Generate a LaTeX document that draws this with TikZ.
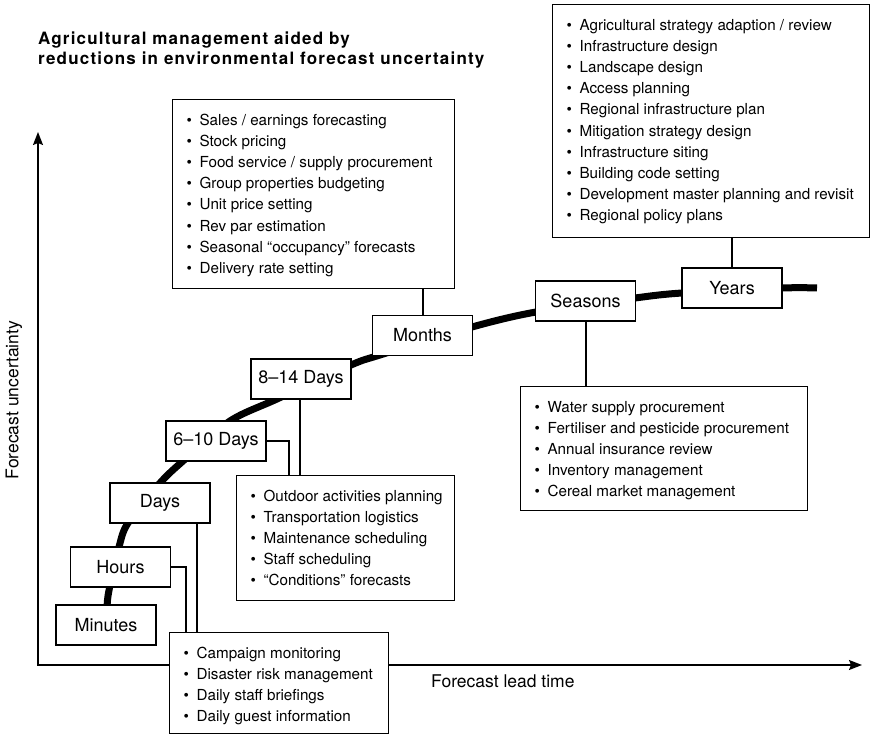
\documentclass[tikz,border=0pt]{standalone}
\usepackage{fontspec}
\setmainfont{TeX Gyre Heros}
\newfontfamily\titlefamily[LetterSpace=7]{TeX Gyre Heros}
\usetikzlibrary{arrows.meta}

% fonts
\newcommand{\listfont}{\fontsize{15.2}{21.2}\selectfont}
\newcommand{\labelfont}{\fontsize{18}{20}\selectfont}
\newcommand{\axisfont}{\fontsize{17.5}{20}\selectfont}
\newcommand{\headfont}{\titlefamily\bfseries\fontsize{17}{20}\selectfont}

% bullet lists inside fixed-size boxes
\newcommand{\bfirst}[1]{\rule{0pt}{25.5pt}\makebox[13pt][l]{\textbullet}#1\par}
\newcommand{\bitem}[1]{\makebox[13pt][l]{\textbullet}#1\par}
\newcommand{\bulletlist}[3]{\parbox[c][#2][t]{#1}{\listfont\raggedright
  \setlength{\leftskip}{14pt}\setlength{\parskip}{0pt}#3}}

\tikzset{
  listbox/.style={draw, fill=white, line width=1.2pt, inner sep=0pt, anchor=north west},
  scalebox/.style={draw, fill=white, line width=1.2pt, inner sep=0pt,
    minimum width=100pt, minimum height=40pt, font=\labelfont},
  link/.style={line width=2pt},
  trend/.style={line width=7pt},
  axis/.style={line width=1.4pt, {Stealth[length=13pt,width=10pt,inset=2pt]}-{Stealth[length=13pt,width=10pt,inset=2pt]}},
}

\begin{document}
\begin{tikzpicture}[x=1pt,y=-1pt]
\useasboundingbox (0,0) rectangle (875,735);

% axes
\coordinate (ytip) at (38,132);
\coordinate (xtip) at (862,665);
\draw[axis] (ytip) |- (xtip);
\node[rotate=90, font=\axisfont] (ylab) at (14,400) {Forecast uncertainty};
\node[anchor=base west, font=\axisfont, inner sep=0pt] (xlab) at (431,687) {Forecast lead time};

% heading
\node[anchor=base west, font=\headfont, inner sep=0pt] (title1) at (38,44.5) {Agricultural management aided by};
\node[anchor=base west, font=\headfont, inner sep=0pt] (title2) at (38,64.5) {reductions in environmental forecast uncertainty};

% uncertainty trend
\draw[trend] plot[smooth, tension=0.5] coordinates {
  (107,625) (108,596) (119,547) (128,523) (160,483) (183,461) (230,421)
  (277,399) (351,365) (380,355) (472,327) (536,312) (635,298) (682,293)
  (782,288) (817,288)};

% time scales
\node[scalebox] (minutes) at (106,625) {Minutes};
\node[scalebox] (hours)   at (120.5,567) {Hours};
\node[scalebox] (days)    at (160,503) {Days};
\node[scalebox] (d610)    at (216,441) {6--10 Days};
\node[scalebox] (d814)    at (301,379) {8--14 Days};
\node[scalebox] (months)  at (422.5,335.5) {Months};
\node[scalebox] (seasons) at (585.5,301) {Seasons};
\node[scalebox] (years)   at (732,288) {Years};

% activity lists
\node[listbox] (shortbox) at (169,632) {\bulletlist{219pt}{101pt}{%
  \bfirst{Campaign monitoring}
  \bitem{Disaster risk management}
  \bitem{Daily staff briefings}
  \bitem{Daily guest information}}};

\node[listbox] (weekbox) at (236,475) {\bulletlist{218pt}{125pt}{%
  \bfirst{Outdoor activities planning}
  \bitem{Transportation logistics}
  \bitem{Maintenance scheduling}
  \bitem{Staff scheduling}
  \bitem{``Conditions'' forecasts}}};

\node[listbox] (monthbox) at (172,99) {\bulletlist{282pt}{189pt}{%
  \bfirst{Sales / earnings forecasting}
  \bitem{Stock pricing}
  \bitem{Food service / supply procurement}
  \bitem{Group properties budgeting}
  \bitem{Unit price setting}
  \bitem{Rev par estimation}
  \bitem{Seasonal ``occupancy'' forecasts}
  \bitem{Delivery rate setting}}};

\node[listbox] (seasonbox) at (520,386) {\bulletlist{287pt}{124pt}{%
  \bfirst{Water supply procurement}
  \bitem{Fertiliser and pesticide procurement}
  \bitem{Annual insurance review}
  \bitem{Inventory management}
  \bitem{Cereal market management}}};

\node[listbox] (yearbox) at (552,4) {\bulletlist{317pt}{233pt}{%
  \bfirst{Agricultural strategy adaption / review}
  \bitem{Infrastructure design}
  \bitem{Landscape design}
  \bitem{Access planning}
  \bitem{Regional infrastructure plan}
  \bitem{Mitigation strategy design}
  \bitem{Infrastructure siting}
  \bitem{Building code setting}
  \bitem{Development master planning and revisit}
  \bitem{Regional policy plans}}};

% links from time scales to lists
\draw[link] (hours.east) -| ([xshift=17pt]shortbox.north west);
\draw[link] ([xshift=37pt]days.south) -- ([xshift=28pt]shortbox.north west);
\draw[link] (d610.east) -| ([xshift=53pt]weekbox.north west);
\draw[link] ([xshift=-1pt]d814.south) -- ([xshift=64pt]weekbox.north west);
\draw[link] (months.north) -- (months.north |- monthbox.south);
\draw[link] (seasons.south) -- (seasons.south |- seasonbox.north);
\draw[link] (years.north) -- (years.north |- yearbox.south);
\end{tikzpicture}
\end{document}
